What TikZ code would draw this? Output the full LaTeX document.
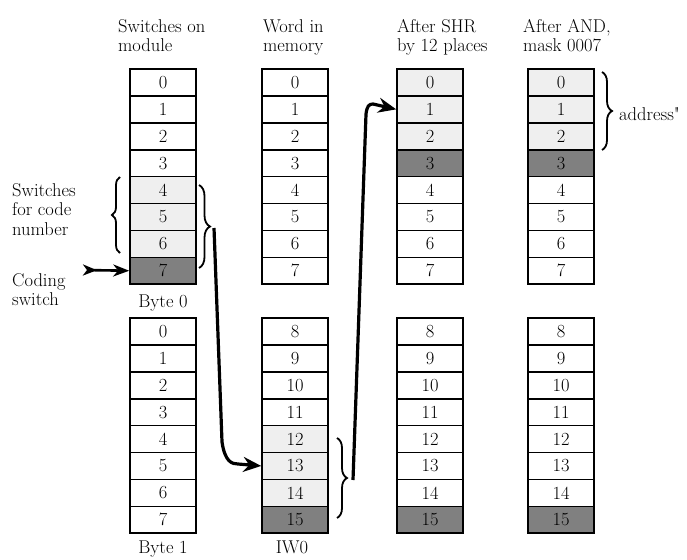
\documentclass[tikz,border=0pt]{standalone}
\usepackage{fontspec}
\newfontfamily\plainquote{Latin Modern Roman}
\usetikzlibrary{arrows.meta,decorations.pathreplacing}
\definecolor{lightcell}{HTML}{EFEFEF}
\definecolor{darkcell}{HTML}{808080}
\begin{document}
\begin{tikzpicture}[x=1pt,y=-1pt,
  cell/.style={draw=black,line width=1.6pt,minimum width=66pt,minimum height=26.9pt,inner sep=0pt,
    font=\fontsize{18.5}{19.5}\selectfont,fill=white},
  lt/.style={cell,fill=lightcell},
  dk/.style={cell,fill=darkcell},
  lbl/.style={inner sep=0pt,font=\fontsize{18.5}{19.5}\selectfont,align=left},
  bracedeco/.style={decorate,decoration={brace,amplitude=#1},line width=1.8pt},
  flow/.style={line width=3.2pt,-{Stealth[length=18pt,width=15pt,inset=6pt]}},
]
\useasboundingbox (0,0) rectangle (687,559);
% column 1 (switches on module), byte 0 and byte 1
\foreach \i in {0,...,7}{
  \pgfmathsetmacro{\yy}{69+26.9*(\i+0.5)}
  \pgfmathsetmacro{\yb}{318+26.9*(\i+0.5)}
  \ifnum\i>3 \def\sty{lt}\else\def\sty{cell}\fi
  \ifnum\i=7 \def\sty{dk}\fi
  \node[\sty] (s\i) at (163,\yy) {\i};
  \node[cell] (t\i) at (163,\yb) {\i};
}
% column 2 (word in memory)
\foreach \i in {0,...,7}{
  \pgfmathsetmacro{\yy}{69+26.9*(\i+0.5)}
  \node[cell] (w\i) at (295,\yy) {\i};
}
\foreach \i in {8,...,15}{
  \pgfmathsetmacro{\yb}{318+26.9*(\i-8+0.5)}
  \ifnum\i>11 \def\sty{lt}\else\def\sty{cell}\fi
  \ifnum\i=15 \def\sty{dk}\fi
  \node[\sty] (w\i) at (295,\yb) {\i};
}
% columns 3 and 4
\foreach \c/\x in {h/430,m/561}{
  \foreach \i in {0,...,7}{
    \pgfmathsetmacro{\yy}{69+26.9*(\i+0.5)}
    \ifnum\i<3 \def\sty{lt}\else\def\sty{cell}\fi
    \ifnum\i=3 \def\sty{dk}\fi
    \node[\sty] (\c\i) at (\x,\yy) {\i};
  }
  \foreach \i in {8,...,15}{
    \pgfmathsetmacro{\yb}{318+26.9*(\i-8+0.5)}
    \ifnum\i=15 \def\sty{dk}\else\def\sty{cell}\fi
    \node[\sty] (\c\i) at (\x,\yb) {\i};
  }
}
% headers
\node[lbl,anchor=north west] (hd1) at (118,19) {Switches on\\module};
\node[lbl,anchor=north west] (hd2) at (263,19) {Word in\\memory};
\node[lbl,anchor=north west] (hd3) at (397,19) {After SHR\\by 12 places};
\node[lbl,anchor=north west] (hd4) at (523,19) {After AND,\\mask 0007};
% other labels
\node[lbl,anchor=base] (by0) at (163,307) {Byte 0};
\node[lbl,anchor=base] (by1) at (163,553) {Byte 1};
\node[lbl,anchor=base] (iw0) at (292,553) {IW0};
\node[lbl,anchor=north west] (swc) at (12,183) {Switches\\for code\\number};
\node[lbl,anchor=north west] (cds) at (12,273) {Coding\\switch};
\node[lbl,anchor=base west] (adr) at (619,121) {address{\plainquote\symbol{34}}};
% braces
\draw[bracedeco=8pt] (120,253) -- (120,177);
\draw[bracedeco=11pt] (199,185) -- (199,268);
\draw[bracedeco=10pt] (337,438) -- (337,518);
\draw[bracedeco=10pt] (602,72) -- (602,150);
\coordinate (b1) at (214,228);
\coordinate (b2) at (353,480);
\coordinate (cs) at (83,270);
% arrows
\draw[line width=2.6pt,{Stealth[reversed,length=14pt,width=11pt,inset=4pt]}-{Stealth[length=16pt,width=12pt,inset=5pt]}] (cs) -- (s7.west);
\draw[flow] (b1) -- (222,442) .. controls (225,462) and (232,464) .. (238,464) -- (w13.west);
\draw[flow] (b2) -- (366,114) .. controls (367,106) and (369,104) .. (373,104) -- (h1.west);
\end{tikzpicture}
\end{document}
